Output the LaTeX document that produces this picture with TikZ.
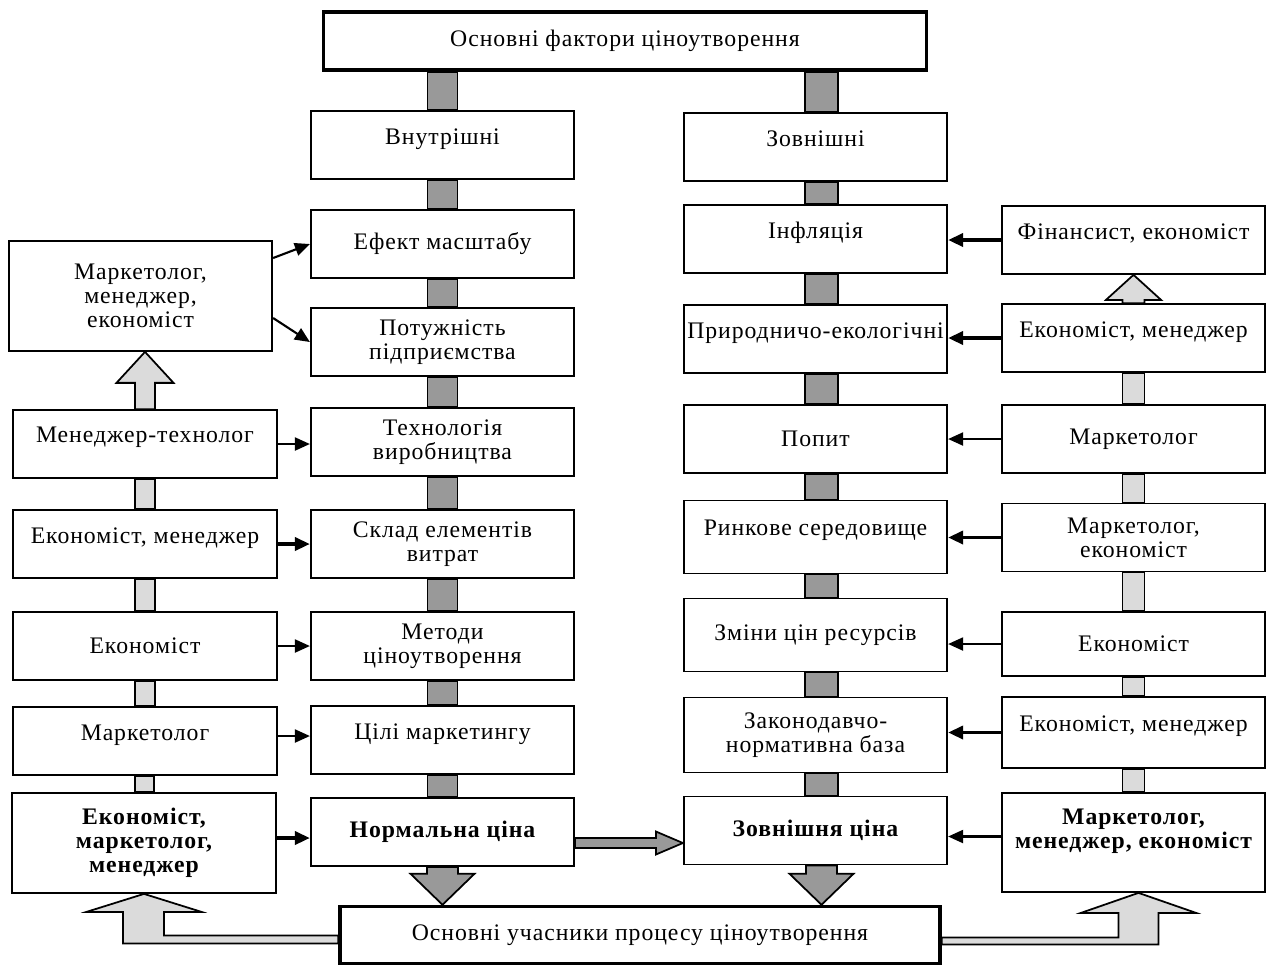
\documentclass[tikz,border=0pt]{standalone}
\usepackage{fontspec}
\setmainfont{Liberation Serif}[LetterSpace=4]
\usetikzlibrary{arrows.meta}
\definecolor{barDark}{gray}{0.6}
\definecolor{barLight}{gray}{0.86}
\tikzset{
  box/.style={draw, line width=1pt, fill=white, minimum width=5.27cm, minimum height=1.36cm,
    align=center, inner sep=1pt, font=\fontsize{13.5}{13.7}\selectfont},
  mainbox/.style={box, line width=2pt},
  hi/.style={text depth=10pt},
  darkbar/.style={draw, line width=1pt, fill=barDark},
  lightbar/.style={draw, line width=1pt, fill=barLight},
  ptr/.style={-{Triangle[length=0.3cm,width=0.26cm]}, line width=1.2pt},
  boldptr/.style={ptr, line width=2pt}
}
\begin{document}
\begin{tikzpicture}[x=0.02cm,y=-0.02cm]
\useasboundingbox (0,0) rectangle (1267,965);
% top and bottom
\node[mainbox, minimum width=12.06cm, minimum height=1.16cm] (fact) at (625,41) {Основні фактори ціноутворення};
\node[mainbox, minimum width=12cm, minimum height=1.14cm] (uch) at (640,935) {Основні учасники процесу ціноутворення};
% internal factors
\node[box, hi] (vn) at (442.5,145) {Внутрішні};
\node[box] (ef) at (442.5,244) {Ефект масштабу};
\node[box] (pot) at (442.5,342) {Потужність\\підприємства};
\node[box] (tech) at (442.5,442) {Технологія\\виробництва};
\node[box] (sklad) at (442.5,544) {Склад елементів\\витрат};
\node[box] (metod) at (442.5,646) {Методи\\ціноутворення};
\node[box, hi] (cili) at (442.5,740) {Цілі маркетингу};
\node[box] (norm) at (442.5,832) {\bfseries Нормальна ціна};
% left participants
\node[box, minimum height=2.2cm] (mme) at (140.5,296) {Маркетолог,\\менеджер,\\економіст};
\node[box, hi] (mt) at (145,444) {Менеджер-технолог};
\node[box, hi] (em) at (145,544) {Економіст, менеджер};
\node[box] (ek) at (145,646) {Економіст};
\node[box, hi] (mk) at (145,741) {Маркетолог};
\node[box, minimum height=2cm] (emm) at (144,843) {\bfseries Економіст,\\\bfseries маркетолог,\\\bfseries менеджер};
% external factors
\node[box, hi] (zv) at (815.5,147) {Зовнішні};
\node[box, hi] (inf) at (815.5,239) {Інфляція};
\node[box, hi] (prir) at (815.5,339) {Природничо-екологічні};
\node[box] (pop) at (815.5,439) {Попит};
\node[box, hi, minimum height=1.46cm] (rynk) at (815.5,537) {Ринкове середовище};
\node[box, minimum height=1.46cm] (zmin) at (815.5,635) {Зміни цін ресурсів};
\node[box, minimum height=1.5cm] (zak) at (815.5,735) {Законодавчо-\\нормативна база};
\node[box] (zovc) at (815.5,830.5) {\bfseries Зовнішня ціна};
% right participants
\node[box, hi] (fin) at (1133.5,240) {Фінансист, економіст};
\node[box, hi] (emr) at (1133.5,338) {Економіст, менеджер};
\node[box] (mkr) at (1133.5,439) {Маркетолог};
\node[box] (mer) at (1133.5,537.5) {Маркетолог,\\економіст};
\node[box, minimum height=1.28cm] (ekr) at (1133.5,644) {Економіст};
\node[box, hi, minimum height=1.42cm] (em2r) at (1133.5,732.5) {Економіст, менеджер};
\node[box, minimum height=1.98cm, text depth=16pt] (mmer) at (1133.5,842.5) {\bfseries Маркетолог,\\\bfseries менеджер, економіст};
% dark bars
\foreach \a/\b in {fact/vn,vn/ef,ef/pot,pot/tech,tech/sklad,sklad/metod,metod/cili,cili/norm}
  \draw[darkbar] ([xshift=-0.3cm]\a.south -| vn.south) rectangle ([xshift=0.3cm]\b.north);
\foreach \a/\b in {fact/zv,zv/inf,inf/prir,prir/pop,pop/rynk,rynk/zmin,zmin/zak,zak/zovc}
  \draw[darkbar] ([xshift=-0.21cm]\a.south -| zv.south) rectangle ([xshift=0.45cm]\b.north);
% light bars
\foreach \a/\b in {mt/em,em/ek,ek/mk,mk/emm}
  \draw[lightbar] ([xshift=-0.2cm]\a.south) rectangle ([xshift=0.2cm]\b.north);
\foreach \a/\b in {emr/mkr,mkr/mer,mer/ekr,ekr/em2r,em2r/mmer}
  \draw[lightbar] ([xshift=-0.22cm]\a.south) rectangle ([xshift=0.22cm]\b.north);
% up arrows
\coordinate (lt) at (mt.north |- mme.south);
\draw[lightbar] ([xshift=-0.2cm]mt.north) -- ([xshift=-0.2cm,yshift=-0.62cm]lt) -- ([xshift=-0.57cm,yshift=-0.62cm]lt)
  -- (lt) -- ([xshift=0.57cm,yshift=-0.62cm]lt) -- ([xshift=0.2cm,yshift=-0.62cm]lt) -- ([xshift=0.2cm]mt.north) -- cycle;
\coordinate (rt) at (emr.north |- fin.south);
\draw[lightbar] ([xshift=-0.22cm]emr.north) -- ([xshift=-0.22cm,yshift=-0.5cm]rt) -- ([xshift=-0.55cm,yshift=-0.5cm]rt)
  -- (rt) -- ([xshift=0.55cm,yshift=-0.5cm]rt) -- ([xshift=0.22cm,yshift=-0.5cm]rt) -- ([xshift=0.22cm]emr.north) -- cycle;
% down arrows
\coordinate (ld) at (norm.south |- uch.north);
\draw[darkbar] ([xshift=-0.31cm]norm.south) -- ([xshift=-0.31cm,yshift=0.62cm]ld) -- ([xshift=-0.64cm,yshift=0.62cm]ld)
  -- (ld) -- ([xshift=0.64cm,yshift=0.62cm]ld) -- ([xshift=0.31cm,yshift=0.62cm]ld) -- ([xshift=0.31cm]norm.south) -- cycle;
\coordinate (zs) at ([xshift=0.12cm]zovc.south);
\coordinate (rd) at (zs |- uch.north);
\draw[darkbar] ([xshift=-0.31cm]zs) -- ([xshift=-0.31cm,yshift=0.62cm]rd) -- ([xshift=-0.64cm,yshift=0.62cm]rd)
  -- (rd) -- ([xshift=0.64cm,yshift=0.62cm]rd) -- ([xshift=0.31cm,yshift=0.62cm]rd) -- ([xshift=0.31cm]zs) -- cycle;
% normal -> external price
\coordinate (ns) at ([yshift=-0.22cm]norm.east);
\coordinate (ne) at (ns -| zovc.west);
\draw[darkbar] ([yshift=0.1cm]ns) -- ([xshift=-0.54cm,yshift=0.1cm]ne) -- ([xshift=-0.54cm,yshift=0.23cm]ne) -- (ne)
  -- ([xshift=-0.54cm,yshift=-0.23cm]ne) -- ([xshift=-0.54cm,yshift=-0.1cm]ne) -- ([yshift=-0.1cm]ns) -- cycle;
% bottom bent arrows
\coordinate (lc) at (emm.south |- uch.west);
\draw[lightbar] ([yshift=-0.01cm]uch.west) -- ([xshift=0.4cm,yshift=-0.01cm]lc) -- ([xshift=0.4cm,yshift=-0.36cm]emm.south)
  -- ([xshift=1.15cm,yshift=-0.36cm]emm.south) -- (emm.south) -- ([xshift=-1.15cm,yshift=-0.36cm]emm.south)
  -- ([xshift=-0.42cm,yshift=-0.36cm]emm.south) -- ([xshift=-0.42cm,yshift=-0.17cm]lc) -- ([yshift=-0.17cm]uch.west) -- cycle;
\coordinate (rs) at ([xshift=0.1cm]mmer.south);
\coordinate (rc) at (rs |- uch.east);
\draw[lightbar] ([yshift=-0.05cm]uch.east) -- ([xshift=-0.4cm,yshift=-0.05cm]rc) -- ([xshift=-0.4cm,yshift=-0.4cm]rs)
  -- ([xshift=-1.15cm,yshift=-0.4cm]rs) -- (rs) -- ([xshift=1.15cm,yshift=-0.4cm]rs)
  -- ([xshift=0.4cm,yshift=-0.4cm]rs) -- ([xshift=0.4cm,yshift=-0.19cm]rc) -- ([yshift=-0.19cm]uch.east) -- cycle;
% small arrows, left side
\draw[ptr] ([yshift=0.76cm]mme.east) -- (ef.west);
\draw[ptr] ([yshift=-0.44cm]mme.east) -- (pot.west);
\draw[ptr] (mt.east) -- (mt.east -| tech.west);
\draw[boldptr] (em.east) -- (em.east -| sklad.west);
\draw[ptr] (ek.east) -- (ek.east -| metod.west);
\draw[ptr] ([yshift=0.1cm]mk.east) -- ([yshift=0.1cm]mk.east -| cili.west);
\draw[boldptr] ([yshift=0.1cm]emm.east) -- ([yshift=0.1cm]emm.east -| norm.west);
% small arrows, right side
\draw[boldptr] (fin.west) -- (fin.west -| inf.east);
\draw[boldptr] (emr.west) -- (emr.west -| prir.east);
\draw[ptr] (mkr.west) -- (mkr.west -| pop.east);
\draw[boldptr] (mer.west) -- (mer.west -| rynk.east);
\draw[ptr] (ekr.west) -- (ekr.west -| zmin.east);
\draw[boldptr] (em2r.west) -- (em2r.west -| zak.east);
\draw[ptr] ([yshift=0.12cm]mmer.west) -- ([yshift=0.12cm]mmer.west -| zovc.east);
\end{tikzpicture}
\end{document}
